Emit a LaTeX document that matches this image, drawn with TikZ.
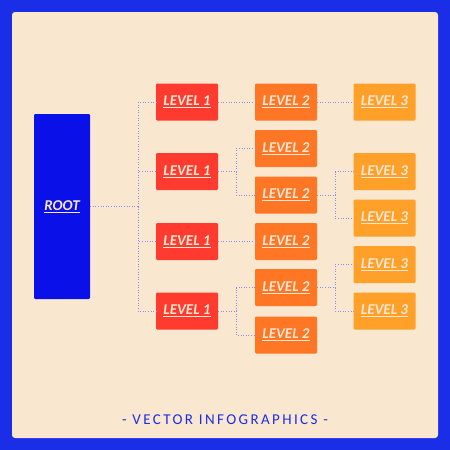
\documentclass[tikz,border=0pt]{standalone}
\usepackage{fontspec}
\setmainfont{Carlito}
\newfontfamily\footfont[LetterSpace=16]{Carlito}
\definecolor{frame}{HTML}{1A2EE8}
\definecolor{panel}{HTML}{F9E7CF}
\definecolor{rootc}{HTML}{0A10E8}
\definecolor{lone}{HTML}{FF3A2E}
\definecolor{ltwo}{HTML}{FF7624}
\definecolor{lthree}{HTML}{FFA028}
\definecolor{txt}{HTML}{FCE6D2}
\definecolor{wire}{HTML}{8A8CF0}
\tikzset{
  box/.style={rounded corners=1.2pt, minimum width=62pt, minimum height=37pt, inner sep=0pt,
    text=txt, font=\fontsize{15}{15}\selectfont\bfseries\itshape},
  lv1/.style={box, fill=lone},
  lv2/.style={box, fill=ltwo},
  lv3/.style={box, fill=lthree},
  wirestyle/.style={draw=wire, dotted, line width=0.6pt}
}
\newcommand{\ul}[1]{\underline{#1}}
\begin{document}
\begin{tikzpicture}[x=1pt,y=-1pt]
\fill[frame] (0,0) rectangle (450,450);
\fill[panel, rounded corners=3pt] (12,12) rectangle (438,438);
\useasboundingbox (0,0) rectangle (450,450);
\node[box, fill=rootc, minimum width=56pt, minimum height=185pt] (root) at (62,206.5) {\ul{ROOT}};
% level 1
\node[lv1] (a1) at (187,102) {\ul{LEVEL 1}};
\node[lv1] (a2) at (187,171.5) {\ul{LEVEL 1}};
\node[lv1] (a3) at (187,241.5) {\ul{LEVEL 1}};
\node[lv1] (a4) at (187,311) {\ul{LEVEL 1}};
% level 2
\node[lv2] (b1) at (286,102) {\ul{LEVEL 2}};
\node[lv2] (b2) at (286,148.5) {\ul{LEVEL 2}};
\node[lv2] (b3) at (286,195) {\ul{LEVEL 2}};
\node[lv2] (b4) at (286,241.5) {\ul{LEVEL 2}};
\node[lv2] (b5) at (286,287.5) {\ul{LEVEL 2}};
\node[lv2] (b6) at (286,335) {\ul{LEVEL 2}};
% level 3
\node[lv3] (c1) at (384.5,102) {\ul{LEVEL 3}};
\node[lv3] (c2) at (384.5,171.5) {\ul{LEVEL 3}};
\node[lv3] (c3) at (384.5,218) {\ul{LEVEL 3}};
\node[lv3] (c4) at (384.5,264.5) {\ul{LEVEL 3}};
\node[lv3] (c5) at (384.5,311) {\ul{LEVEL 3}};
% connectors
\coordinate (j0) at (138,206.5);
\draw[wirestyle] (root.east) -- (j0);
\foreach \n in {a1,a2,a3,a4} \draw[wirestyle] (j0) |- (\n.west);
\draw[wirestyle] (a1.east) -- (b1.west);
\draw[wirestyle] (b1.east) -- (c1.west);
\draw[wirestyle] (a3.east) -- (b4.west);
\coordinate (j1) at (236,171.5);
\draw[wirestyle] (a2.east) -- (j1);
\draw[wirestyle] (j1) |- (b2.west);
\draw[wirestyle] (j1) |- (b3.west);
\coordinate (j2) at (335,195);
\draw[wirestyle] (b3.east) -- (j2);
\draw[wirestyle] (j2) |- (c2.west);
\draw[wirestyle] (j2) |- (c3.west);
\coordinate (j3) at (236,311);
\draw[wirestyle] (a4.east) -- (j3);
\draw[wirestyle] (j3) |- (b5.west);
\draw[wirestyle] (j3) |- (b6.west);
\coordinate (j4) at (335,287.5);
\draw[wirestyle] (b5.east) -- (j4);
\draw[wirestyle] (j4) |- (c4.west);
\draw[wirestyle] (j4) |- (c5.west);
\node[text=frame, font=\footfont\fontsize{15}{15}\selectfont] (foot) at (225,420) {- VECTOR INFOGRAPHICS -};
\end{tikzpicture}
\end{document}
